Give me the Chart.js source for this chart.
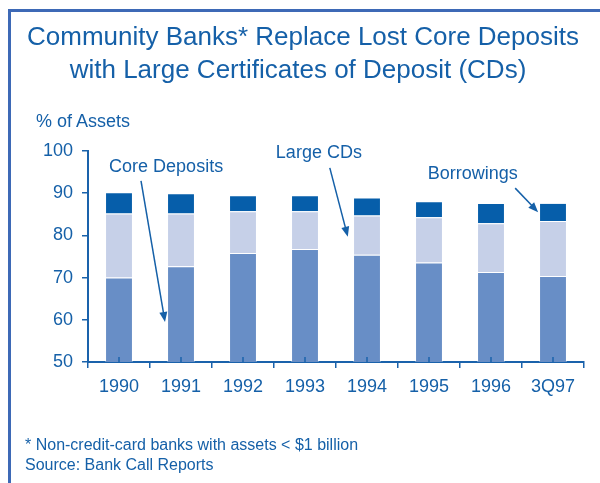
<!DOCTYPE html>
<html>
<head>
<meta charset="utf-8">
<script src="https://cdn.jsdelivr.net/npm/chart.js"></script>
<style>
  body { margin: 0; background: #fff; }
  #wrap { position: relative; width: 600px; height: 483px; overflow: hidden;
          font-family: "Liberation Sans", Arial, sans-serif; color: #1560a8; }
  #frame { position: absolute; left: 8px; top: 9px; width: 600px; height: 480px;
           border-left: 3px solid #3d69b6; border-top: 3px solid #3d69b6; }
  .title { position: absolute; left: 0; width: 606px; text-align: center;
           font-size: 26px; line-height: 33px; }
  .unit { position: absolute; left: 36px; top: 111px; font-size: 18px; line-height: 20px; }
  .note { position: absolute; left: 25px; top: 435px; font-size: 16px; line-height: 20px; }
  canvas { position: absolute; left: 0; top: 0; }
</style>
</head>
<body>
<div id="wrap">
  <canvas id="chart" width="600" height="483"></canvas>
  <div id="frame"></div>
  <div class="title" style="top:20px">Community Banks* Replace Lost Core Deposits</div>
  <div class="title" style="top:53px; width:596px">with Large Certificates of Deposit (CDs)</div>
  <div class="unit">% of Assets</div>
  <div class="note">* Non-credit-card banks with assets &lt; $1 billion<br>Source: Bank Call Reports</div>
</div>
<script>
// values, % of assets
const years = ['1990', '1991', '1992', '1993', '1994', '1995', '1996', '3Q97'];
const coreDeposits = [70.0, 72.7, 75.8, 76.8, 75.4, 73.6, 71.3, 70.4];
const largeCDs = [15.2, 12.5, 9.9, 8.9, 9.3, 10.7, 11.6, 13.0];
const borrowings = [5.0, 4.8, 3.8, 3.8, 4.3, 3.8, 4.8, 4.3];
const yTicks = [50, 60, 70, 80, 90, 100];

const blue = '#1560a8';
const axisBlue = '#1a62ab';

// callouts: text at (category index, value), arrow from -> to
const callouts = [
  { text: 'Core Deposits', at: [-0.16, 95.0], from: [0.355, 92.9], to: [0.742, 59.5] },
  { text: 'Large CDs', at: [2.53, 98.3], from: [3.40, 96.0], to: [3.69, 79.7] },
  { text: 'Borrowings', at: [4.98, 93.3], from: [6.39, 91.2], to: [6.76, 85.5] }
];

const extras = {
  id: 'extras',
  afterDatasetsDraw(chart) {
    const ctx = chart.ctx;
    const x = chart.scales.x, y = chart.scales.y;
    const bottom = chart.chartArea.bottom;
    ctx.save();
    // little up-ticks at bar centres
    ctx.strokeStyle = axisBlue;
    ctx.lineWidth = 1.5;
    years.forEach((_, i) => {
      const px = x.getPixelForValue(i);
      ctx.beginPath();
      ctx.moveTo(px, bottom);
      ctx.lineTo(px, bottom - 5);
      ctx.stroke();
    });
    // callout labels and arrows
    ctx.fillStyle = blue;
    ctx.font = '18px "Liberation Sans", Arial, sans-serif';
    ctx.textBaseline = 'alphabetic';
    callouts.forEach(c => {
      ctx.fillText(c.text, x.getPixelForValue(c.at[0]), y.getPixelForValue(c.at[1]));
      const x1 = x.getPixelForValue(c.from[0]), y1 = y.getPixelForValue(c.from[1]);
      const x2 = x.getPixelForValue(c.to[0]), y2 = y.getPixelForValue(c.to[1]);
      const a = Math.atan2(y2 - y1, x2 - x1);
      ctx.strokeStyle = blue;
      ctx.lineWidth = 1.5;
      ctx.beginPath();
      ctx.moveTo(x1, y1);
      ctx.lineTo(x2 - 6 * Math.cos(a), y2 - 6 * Math.sin(a));
      ctx.stroke();
      ctx.beginPath();
      ctx.moveTo(x2, y2);
      ctx.lineTo(x2 - 10 * Math.cos(a) + 4 * Math.sin(a), y2 - 10 * Math.sin(a) - 4 * Math.cos(a));
      ctx.lineTo(x2 - 10 * Math.cos(a) - 4 * Math.sin(a), y2 - 10 * Math.sin(a) + 4 * Math.cos(a));
      ctx.closePath();
      ctx.fill();
    });
    ctx.restore();
  }
};

const tickFont = { family: '"Liberation Sans", Arial, sans-serif', size: 18 };

new Chart(document.getElementById('chart'), {
  type: 'bar',
  data: {
    labels: years,
    datasets: [
      { label: 'Core Deposits', data: coreDeposits, backgroundColor: '#688ec6' },
      { label: 'Large CDs', data: largeCDs, backgroundColor: '#c6d0e8' },
      { label: 'Borrowings', data: borrowings, backgroundColor: '#065eaa' }
    ].map(d => Object.assign(d, {
      barPercentage: 0.45, categoryPercentage: 1,
      borderWidth: 1, borderColor: 'rgba(255,255,255,0.35)'
    }))
  },
  options: {
    responsive: false,
    animation: false,
    layout: { padding: { top: 151, right: 16, left: 0, bottom: 0 } },
    plugins: { legend: { display: false }, tooltip: { enabled: false } },
    scales: {
      x: {
        stacked: true,
        afterFit: s => { s.height = 121; },
        grid: { offset: true, drawOnChartArea: false, tickLength: 6, color: axisBlue, lineWidth: 1.5 },
        border: { color: axisBlue, width: 2 },
        ticks: { color: blue, font: tickFont, padding: 8, maxRotation: 0 }
      },
      y: {
        stacked: true,
        min: 50, max: 100,
        afterFit: s => { s.width = 88; },
        afterBuildTicks: s => { s.ticks = yTicks.map(v => ({ value: v })); },
        grid: { drawOnChartArea: false, tickLength: 6, color: axisBlue, lineWidth: 1.5 },
        border: { color: axisBlue, width: 2 },
        ticks: { color: blue, font: tickFont, padding: 9 }
      }
    }
  },
  plugins: [extras]
});
</script>
</body>
</html>
